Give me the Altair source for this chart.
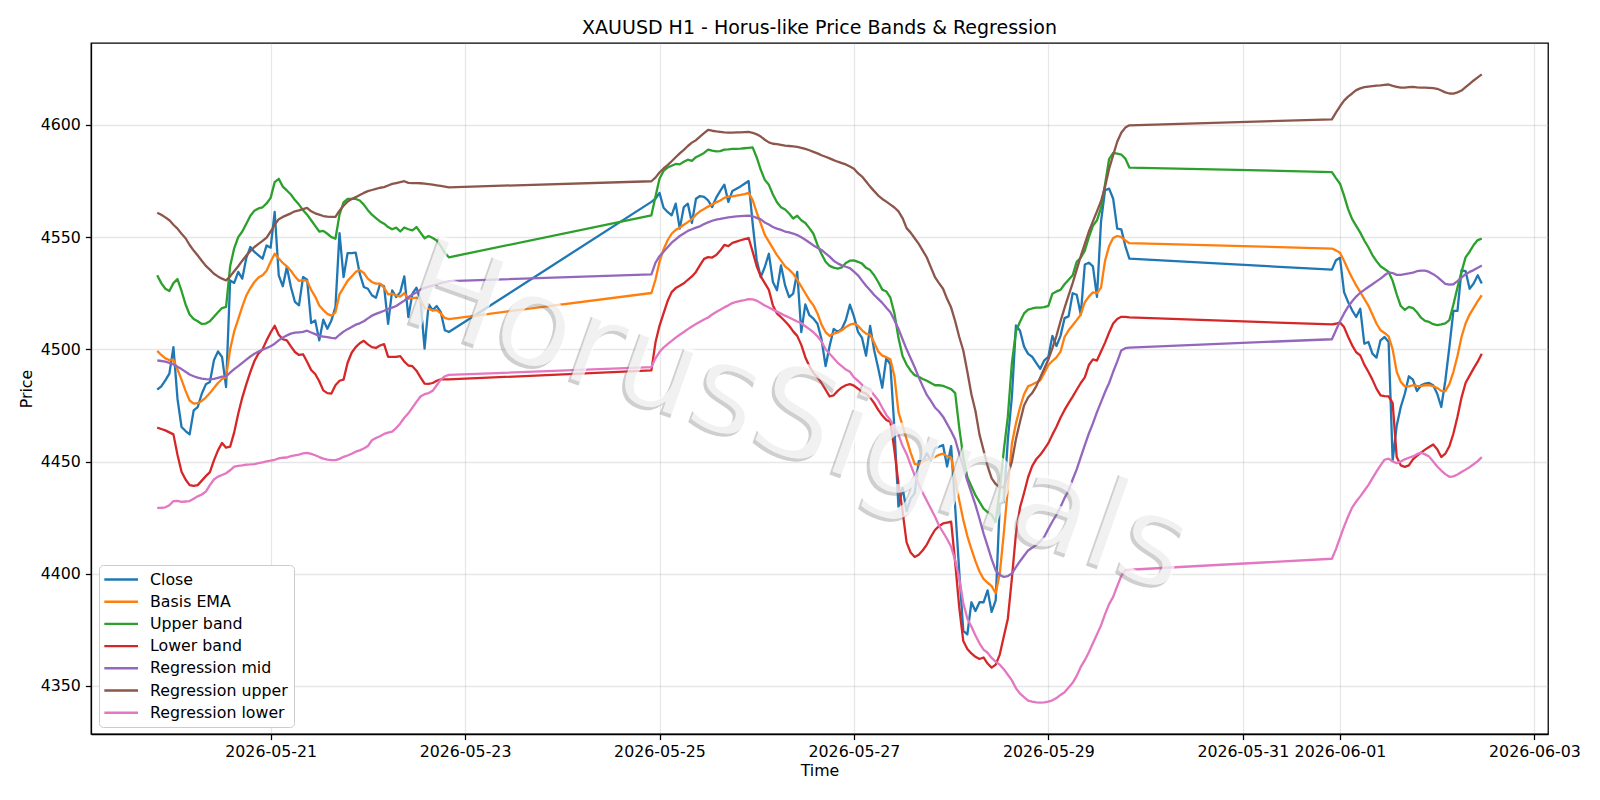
import altair as alt
import pandas as pd

TITLE = "XAUUSD H1 - Horus-like Price Bands & Regression"
WATERMARK = "HorusSignals"
SERIES = ["Close", "Basis EMA", "Upper band", "Lower band",
          "Regression mid", "Regression upper", "Regression lower"]
COLORS = ["#1f77b4", "#ff7f0e", "#2ca02c", "#d62728",
          "#9467bd", "#8c564b", "#e377c2"]
# hourly trading sessions (weekend gaps between them)
SESSIONS = [("2026-05-19 20:00", "2026-05-22 20:00"),
            ("2026-05-24 22:00", "2026-05-29 20:00"),
            ("2026-05-31 22:00", "2026-06-02 11:00")]
X_TICKS = ["2026-05-21", "2026-05-23", "2026-05-25", "2026-05-27",
           "2026-05-29", "2026-05-31", "2026-06-01", "2026-06-03"]
Y_TICKS = [4350, 4400, 4450, 4500, 4550, 4600]

# ---------------- session 1 (73 bars) ----------------
CLOSE_1 = [4482.0, 4483.5, 4486.2, 4489.2, 4501.0, 4478.0, 4465.4, 4463.6, 4462.1, 4472.8,
           4474.3, 4480.2, 4484.4, 4485.4, 4495.1, 4499.1, 4496.6, 4483.2, 4530.7, 4529.6,
           4534.5, 4531.5, 4540.8, 4545.6, 4543.4, 4541.9, 4540.4, 4546.3, 4545.3, 4561.2,
           4533.0, 4528.1, 4536.7, 4527.8, 4521.1, 4519.6, 4532.2, 4531.0, 4511.7, 4512.9,
           4504.0, 4513.2, 4509.2, 4512.9, 4518.9, 4551.8, 4532.2, 4542.9, 4542.9, 4543.1,
           4533.7, 4527.8, 4527.0, 4524.1, 4523.0, 4529.0, 4528.1, 4511.4, 4526.3, 4523.3,
           4525.5, 4532.5, 4514.4, 4524.8, 4527.5, 4521.8, 4500.3, 4520.1, 4517.4, 4519.3,
           4516.6, 4508.5, 4507.7]
BASIS_1 = [4499.3, 4497.5, 4496.0, 4495.2, 4495.4, 4491.0, 4486.5, 4481.5, 4477.2, 4475.8,
           4476.0, 4477.0, 4478.5, 4480.5, 4482.8, 4485.0, 4486.8, 4487.5, 4500.0, 4508.0,
           4513.5, 4519.0, 4524.0, 4527.3, 4530.0, 4532.0, 4533.0, 4535.0, 4539.0, 4542.6,
           4540.5, 4538.5, 4537.0, 4535.0, 4532.5, 4530.5, 4530.8, 4530.5, 4526.5, 4523.5,
           4519.5, 4517.5, 4515.8, 4515.0, 4516.5, 4524.5, 4527.5, 4530.5, 4532.5, 4534.5,
           4535.3, 4534.0, 4531.5, 4530.0, 4529.3, 4529.3, 4527.5, 4524.5, 4524.8, 4524.0,
           4523.5, 4525.0, 4522.5, 4522.8, 4523.0, 4522.0, 4518.5, 4518.0, 4517.4, 4517.5,
           4516.0, 4514.0, 4513.5]
UPPER_1 = [4533.0, 4529.5, 4527.0, 4526.0, 4529.5, 4531.3, 4526.0, 4520.0, 4515.5, 4513.5,
           4512.5, 4511.3, 4511.5, 4512.5, 4514.5, 4516.5, 4518.4, 4518.9, 4537.0, 4545.0,
           4550.0, 4552.5, 4556.0, 4559.5, 4561.8, 4562.8, 4563.3, 4565.0, 4567.5, 4574.5,
           4576.0, 4572.5, 4570.8, 4569.0, 4566.5, 4564.5, 4562.0, 4560.0, 4557.5, 4555.0,
           4552.5, 4552.8, 4551.5, 4550.0, 4549.3, 4560.0, 4565.5, 4567.0, 4567.0, 4567.0,
           4566.3, 4564.5, 4562.0, 4560.0, 4558.5, 4557.0, 4556.0, 4554.5, 4553.5, 4554.2,
           4552.5, 4554.3, 4553.5, 4553.0, 4554.5, 4552.0, 4549.5, 4550.5, 4549.6, 4548.5,
           4546.0, 4543.0, 4541.0]
LOWER_1 = [4465.1, 4464.5, 4463.9, 4463.0, 4462.1, 4453.0, 4445.5, 4442.0, 4439.5, 4439.2,
           4439.5, 4441.5, 4443.5, 4445.3, 4450.5, 4455.0, 4458.3, 4456.2, 4456.6, 4463.0,
           4471.3, 4478.5, 4484.5, 4490.0, 4494.8, 4498.2, 4500.0, 4504.0, 4507.5, 4510.5,
           4506.5, 4504.5, 4504.0, 4501.3, 4498.8, 4497.5, 4497.8, 4494.5, 4490.8, 4489.0,
           4485.8, 4481.7, 4480.5, 4480.3, 4484.0, 4486.0, 4486.5, 4494.0, 4498.5, 4501.0,
           4502.7, 4503.8, 4502.2, 4501.0, 4500.6, 4501.7, 4502.3, 4496.6, 4496.6, 4496.6,
           4497.0, 4494.5, 4492.8, 4492.5, 4490.5, 4487.5, 4484.7, 4484.6, 4485.0, 4486.0,
           4486.6, 4486.6, 4486.6]
REGMID_1 = [4495.1, 4494.8, 4494.5, 4494.0, 4493.3, 4492.2, 4491.2, 4490.0, 4488.8, 4488.0,
            4487.4, 4487.0, 4486.7, 4486.6, 4486.8, 4487.3, 4487.8, 4488.0, 4489.6, 4491.2,
            4492.5, 4494.0, 4495.4, 4496.8, 4498.0, 4499.0, 4499.8, 4500.6, 4501.4, 4502.5,
            4504.0, 4505.3, 4506.2, 4507.0, 4507.4, 4507.6, 4507.8, 4508.3, 4507.5, 4506.8,
            4506.0, 4505.7, 4505.4, 4505.1, 4504.9, 4506.5, 4507.9, 4509.0, 4510.0, 4511.0,
            4511.6, 4512.5, 4513.8, 4515.0, 4515.8, 4516.5, 4517.2, 4518.0, 4518.6, 4519.3,
            4520.5, 4521.7, 4523.2, 4524.4, 4525.3, 4526.6, 4527.4, 4527.9, 4528.4, 4528.9,
            4529.5, 4530.0, 4530.4]
REGUP_1 = [4560.9, 4560.0, 4558.8, 4557.5, 4555.5, 4553.8, 4551.5, 4549.5, 4546.5, 4544.0,
           4541.8, 4539.5, 4537.2, 4535.5, 4533.7, 4532.5, 4531.5, 4530.7, 4532.5, 4534.8,
           4537.0, 4539.5, 4541.8, 4543.8, 4545.6, 4547.0, 4548.3, 4549.8, 4552.5, 4555.5,
           4558.0, 4559.0, 4559.8, 4560.6, 4561.5, 4561.9, 4562.5, 4563.0, 4561.5, 4560.6,
           4560.0, 4559.4, 4559.1, 4559.0, 4559.0, 4561.8, 4564.0, 4565.8, 4567.0, 4567.8,
           4568.8, 4569.7, 4570.5, 4571.0, 4571.5, 4572.0, 4572.3, 4573.0, 4573.7, 4574.1,
           4574.5, 4574.9, 4574.2, 4574.1, 4574.1, 4574.0, 4573.8, 4573.6, 4573.4, 4573.1,
           4572.8, 4572.5, 4572.2]
REGLO_1 = [4429.4, 4429.4, 4429.6, 4430.5, 4432.4, 4432.5, 4432.0, 4432.2, 4432.4, 4433.4,
           4434.5, 4435.3, 4436.6, 4439.5, 4442.0, 4443.3, 4444.0, 4444.8, 4446.1, 4447.7,
           4448.1, 4448.3, 4448.6, 4448.7, 4448.9, 4449.3, 4449.6, 4450.1, 4450.4, 4450.8,
           4451.4, 4451.7, 4451.8, 4452.4, 4452.8, 4453.1, 4453.6, 4453.9, 4453.4, 4452.8,
           4452.0, 4451.3, 4450.9, 4450.6, 4450.6, 4451.2, 4452.1, 4452.7, 4453.5, 4454.4,
           4455.0, 4455.8, 4456.9, 4459.5, 4460.5, 4461.3, 4462.3, 4462.9, 4463.3, 4464.9,
           4467.0, 4469.5, 4471.5, 4474.0, 4476.6, 4479.0, 4480.0, 4480.5, 4481.5, 4484.0,
           4486.5, 4488.0, 4488.6]

# ---------------- session 2 (119 bars) ----------------
CLOSE_2 = [4565.7, 4567.1, 4569.7, 4563.1, 4561.2, 4559.7, 4564.9, 4553.8, 4563.4, 4564.9,
           4556.3, 4567.1, 4568.3, 4567.9, 4566.4, 4563.4, 4567.6, 4570.6, 4573.4, 4565.7,
           4570.6, 4571.6, 4572.6, 4573.8, 4575.0, 4556.0, 4539.7, 4532.2, 4536.7, 4542.6,
           4530.0, 4526.3, 4537.4, 4528.5, 4523.3, 4524.8, 4534.5, 4507.7, 4520.0, 4515.2,
           4513.7, 4511.4, 4504.5, 4492.5, 4501.5, 4509.1, 4507.8, 4509.1, 4513.1, 4519.9,
           4514.7, 4507.8, 4505.1, 4497.2, 4510.4, 4499.6, 4491.6, 4482.9, 4496.3, 4493.2,
           4464.6, 4429.5, 4438.3, 4427.9, 4433.5, 4435.9, 4450.2, 4450.2, 4453.7, 4450.5,
           4455.8, 4456.6, 4457.4, 4447.8, 4456.9, 4429.5, 4400.9, 4374.6, 4373.0, 4387.3,
           4383.4, 4387.3, 4387.3, 4392.6, 4383.0, 4388.1, 4431.1, 4431.9, 4459.8, 4478.9,
           4510.7, 4508.3, 4501.2, 4498.0, 4496.7, 4494.0, 4491.3, 4495.1, 4496.7, 4506.0,
           4501.5, 4506.0, 4513.9, 4514.7, 4525.0, 4524.3, 4515.5, 4537.8, 4538.6, 4537.0,
           4523.4, 4556.9, 4570.9, 4571.6, 4567.1, 4553.8, 4553.5, 4546.0, 4540.4]
BASIS_2 = [4525.1, 4531.0, 4539.0, 4544.5, 4548.6, 4551.5, 4553.2, 4554.3, 4555.5, 4556.7,
           4558.0, 4560.0, 4561.5, 4562.5, 4563.6, 4564.5, 4565.5, 4566.3, 4567.5, 4568.0,
           4568.2, 4568.5, 4568.8, 4569.2, 4569.7, 4566.5, 4561.0, 4556.0, 4551.0, 4548.0,
           4545.0, 4542.0, 4539.5, 4537.0, 4535.5, 4533.7, 4531.0, 4528.0, 4525.0, 4522.0,
           4519.6, 4516.0, 4511.0, 4507.7, 4506.0, 4507.0, 4507.5, 4508.5, 4509.9, 4511.0,
           4511.5, 4510.5, 4508.5, 4507.0, 4506.5, 4503.0, 4499.0, 4497.2, 4496.5, 4495.6,
           4488.0, 4472.0, 4466.0, 4460.0, 4454.0, 4449.0, 4448.5, 4450.2, 4450.8, 4451.5,
           4452.0, 4453.0, 4453.5, 4452.3, 4451.8, 4442.0, 4432.7, 4424.0, 4416.8, 4411.0,
           4405.6, 4401.0, 4397.7, 4396.0, 4394.5, 4391.3, 4400.0, 4418.0, 4438.0, 4458.0,
           4467.0, 4474.1, 4480.0, 4483.5, 4484.3, 4485.2, 4486.1, 4489.5, 4493.0, 4494.8,
           4496.4, 4499.0, 4505.5, 4508.5, 4510.7, 4513.0, 4515.5, 4521.0, 4523.5, 4525.4,
           4525.0, 4527.5, 4539.5, 4546.0, 4549.6, 4550.5, 4550.0, 4548.5, 4547.3]
UPPER_2 = [4559.7, 4568.0, 4576.0, 4579.5, 4581.0, 4581.8, 4582.6, 4582.4, 4583.6, 4584.5,
           4584.0, 4585.6, 4586.5, 4587.5, 4589.0, 4588.5, 4588.2, 4588.3, 4589.0, 4589.1,
           4589.3, 4589.3, 4589.4, 4589.6, 4589.8, 4590.0, 4585.5, 4580.0, 4575.5, 4573.3,
           4569.0, 4565.5, 4563.3, 4562.3, 4560.5, 4558.3, 4559.5, 4557.5, 4556.3, 4554.0,
           4551.5, 4546.5, 4542.5, 4539.0, 4537.2, 4536.4, 4536.0, 4536.5, 4538.5, 4539.5,
           4539.6, 4539.0, 4538.2, 4536.3, 4535.3, 4533.0, 4530.0, 4526.6, 4525.8, 4523.0,
           4516.0, 4505.0, 4497.0, 4493.2, 4490.5, 4488.5, 4487.8, 4486.8, 4486.0, 4485.0,
           4484.0, 4484.0, 4483.7, 4483.0, 4482.3, 4480.5, 4465.0, 4452.0, 4443.0, 4439.0,
           4435.0, 4432.0, 4429.0, 4427.5, 4426.3, 4423.1, 4437.5, 4455.0, 4470.0, 4494.0,
           4508.0, 4512.3, 4516.0, 4517.7, 4518.2, 4518.6, 4518.6, 4518.8, 4519.4, 4524.8,
           4525.8, 4526.5, 4529.0, 4531.0, 4533.0, 4539.0, 4540.8, 4544.0, 4550.0, 4555.0,
           4557.5, 4563.0, 4573.6, 4584.8, 4587.5, 4587.2, 4586.8, 4585.0, 4581.0]
LOWER_2 = [4490.6, 4503.0, 4510.5, 4516.0, 4521.5, 4525.5, 4527.3, 4528.3, 4529.4, 4531.0,
           4532.5, 4534.5, 4537.5, 4540.3, 4541.1, 4540.9, 4542.0, 4544.0, 4546.5, 4546.0,
           4547.4, 4548.0, 4548.6, 4549.1, 4549.6, 4543.5, 4537.0, 4532.5, 4529.5, 4526.5,
           4519.5, 4516.0, 4514.3, 4512.5, 4510.5, 4508.0, 4506.0, 4502.0, 4496.5, 4492.5,
           4489.5, 4487.5, 4485.0, 4482.0, 4479.0, 4479.5, 4481.5, 4483.0, 4484.0, 4484.5,
           4483.8, 4482.5, 4481.0, 4480.3, 4478.5, 4476.0, 4473.0, 4470.5, 4468.5, 4467.7,
           4455.0, 4440.0, 4428.0, 4414.0, 4409.5, 4407.5, 4408.5, 4410.5, 4413.0, 4416.5,
           4419.5, 4421.2, 4422.4, 4422.8, 4423.2, 4405.0, 4385.0, 4370.0, 4366.5, 4364.5,
           4363.0, 4362.0, 4362.7, 4360.0, 4358.2, 4359.5, 4364.0, 4372.0, 4380.0, 4398.0,
           4418.0, 4429.5, 4436.0, 4443.0, 4448.0, 4451.0, 4453.0, 4455.5, 4458.2, 4462.0,
           4465.5, 4469.5, 4473.0, 4476.0, 4478.9, 4482.0, 4485.0, 4487.5, 4493.0, 4495.5,
           4495.0, 4499.0, 4503.0, 4507.5, 4511.5, 4513.5, 4514.5, 4514.5, 4514.2]
REGMID_2 = [4533.4, 4538.5, 4541.5, 4543.5, 4545.5, 4547.5, 4549.0, 4550.5, 4551.6, 4552.8,
            4553.5, 4554.2, 4554.8, 4555.8, 4556.6, 4557.3, 4557.8, 4558.1, 4558.5, 4558.8,
            4559.0, 4559.2, 4559.4, 4559.5, 4559.6, 4559.3, 4558.6, 4557.9, 4556.5, 4555.6,
            4554.5, 4553.8, 4553.2, 4552.5, 4552.1, 4551.6, 4550.9, 4549.9, 4548.8, 4547.6,
            4546.3, 4545.3, 4544.3, 4542.8, 4541.3, 4539.5, 4538.3, 4537.4, 4536.8, 4536.2,
            4534.6, 4533.0, 4530.6, 4528.3, 4526.3, 4524.2, 4522.5, 4520.7, 4518.5, 4516.5,
            4513.0, 4509.1, 4504.5, 4500.0, 4496.0, 4492.0, 4487.5, 4483.5, 4479.7, 4477.0,
            4474.1, 4472.3, 4470.0, 4466.8, 4463.5, 4459.8, 4453.5, 4447.5, 4441.5, 4436.0,
            4430.7, 4424.5, 4418.0, 4412.3, 4406.5, 4401.5, 4399.5, 4398.6, 4399.0, 4400.1,
            4403.0, 4405.6, 4408.0, 4410.4, 4411.6, 4412.8, 4414.5, 4416.5, 4420.0, 4423.3,
            4426.3, 4429.8, 4433.8, 4437.0, 4442.0, 4446.5, 4452.0, 4457.3, 4462.5, 4467.0,
            4472.0, 4476.5, 4481.0, 4485.0, 4490.0, 4494.5, 4499.5, 4500.5, 4500.8]
REGUP_2 = [4574.9, 4576.5, 4578.8, 4580.6, 4582.1, 4583.8, 4585.6, 4587.3, 4588.9, 4590.6,
           4592.1, 4593.2, 4594.8, 4596.3, 4597.8, 4597.4, 4597.1, 4596.9, 4596.7, 4596.6,
           4596.6, 4596.7, 4596.7, 4596.8, 4596.9, 4596.5, 4595.8, 4594.8, 4593.4, 4592.2,
           4591.6, 4591.4, 4591.1, 4590.8, 4590.6, 4590.4, 4590.2, 4589.8, 4589.3, 4588.7,
           4588.0, 4587.3, 4586.5, 4585.8, 4585.1, 4584.3, 4583.6, 4583.0, 4582.4, 4581.5,
           4580.5, 4578.5, 4577.0, 4574.8, 4572.5, 4570.5, 4568.5, 4567.0, 4565.8, 4564.5,
           4563.2, 4561.5, 4558.5, 4554.0, 4552.0, 4549.5, 4547.0, 4544.0, 4540.9, 4536.5,
           4532.2, 4529.5, 4527.0, 4522.5, 4518.6, 4512.5, 4505.5, 4499.5, 4490.0, 4480.0,
           4472.5, 4462.0, 4455.0, 4448.0, 4442.5, 4440.0, 4438.5, 4438.5, 4444.0, 4450.0,
           4460.0, 4467.7, 4475.0, 4478.5, 4480.5, 4483.5, 4487.5, 4491.5, 4495.5, 4500.5,
           4506.0, 4512.5, 4518.5, 4524.0, 4529.5, 4535.5, 4541.5, 4547.0, 4552.5, 4557.0,
           4561.5, 4566.0, 4572.5, 4580.5, 4586.5, 4592.5, 4596.5, 4598.8, 4599.8]
REGLO_2 = [4492.1, 4496.0, 4498.8, 4500.8, 4502.3, 4503.8, 4505.2, 4506.5, 4507.7, 4509.0,
           4510.2, 4511.3, 4512.3, 4513.3, 4514.2, 4515.5, 4516.6, 4517.6, 4518.7, 4519.6,
           4520.6, 4521.2, 4521.6, 4521.9, 4522.4, 4522.3, 4521.7, 4520.6, 4519.5, 4518.6,
           4517.7, 4516.8, 4515.9, 4515.0, 4514.2, 4513.3, 4512.4, 4511.6, 4510.3, 4509.0,
           4507.6, 4505.8, 4503.5, 4500.0, 4498.0, 4496.0, 4494.0, 4492.5, 4491.0, 4490.0,
           4487.5, 4486.0, 4484.3, 4483.0, 4482.1, 4479.5, 4477.3, 4474.0, 4470.8, 4468.5,
           4465.0, 4462.0, 4457.0, 4453.4, 4448.5, 4443.9, 4440.0, 4436.0, 4432.5, 4429.0,
           4425.5, 4421.5, 4418.5, 4415.5, 4412.0, 4406.0, 4398.0, 4387.0, 4380.0, 4376.5,
           4372.5, 4369.0, 4366.2, 4364.8, 4362.5, 4360.8, 4359.5, 4357.5, 4355.0, 4352.5,
           4349.0, 4346.6, 4345.0, 4343.5, 4343.0, 4342.7, 4342.6, 4342.7, 4343.0, 4343.6,
           4344.6, 4346.0, 4347.2, 4349.3, 4351.4, 4354.5, 4358.5, 4361.5, 4365.0, 4369.0,
           4373.0, 4377.0, 4382.0, 4386.5, 4389.7, 4394.5, 4399.0, 4401.7, 4401.8]

# ---------------- session 3 (38 bars) ----------------
CLOSE_3 = [4535.5, 4539.7, 4540.8, 4525.5, 4521.1, 4517.4, 4514.4, 4518.1, 4502.5, 4503.3,
           4498.1, 4496.3, 4504.0, 4505.5, 4503.3, 4450.5, 4466.0, 4474.3, 4480.2, 4488.0,
           4486.5, 4481.4, 4484.0, 4484.7, 4485.0, 4484.0, 4480.2, 4474.3, 4486.0, 4501.0,
           4517.1, 4517.1, 4535.2, 4534.9, 4527.0, 4529.3, 4533.0, 4529.3]
BASIS_3 = [4544.9, 4544.1, 4543.0, 4539.5, 4535.5, 4531.8, 4528.5, 4525.5, 4522.5, 4519.5,
           4515.5, 4511.5, 4508.5, 4507.3, 4505.8, 4500.0, 4490.0, 4485.5, 4483.5, 4483.5,
           4484.0, 4483.7, 4483.6, 4484.0, 4484.0, 4483.6, 4482.8, 4481.5, 4481.4, 4484.5,
           4490.0, 4497.0, 4505.5, 4511.5, 4515.5, 4518.5, 4521.5, 4524.1]
UPPER_3 = [4579.0, 4576.3, 4573.8, 4568.5, 4562.5, 4558.0, 4555.0, 4552.0, 4548.5, 4545.5,
           4542.0, 4539.3, 4537.0, 4535.8, 4534.5, 4530.5, 4524.5, 4519.3, 4517.6, 4518.9,
           4518.4, 4516.5, 4514.1, 4512.7, 4512.2, 4511.2, 4510.8, 4511.1, 4511.6, 4513.0,
           4520.0, 4527.5, 4534.5, 4541.0, 4543.5, 4546.5, 4548.7, 4549.3]
LOWER_3 = [4511.1, 4511.4, 4512.0, 4509.9, 4505.6, 4501.8, 4498.7, 4497.3, 4493.2, 4490.0,
           4486.5, 4482.5, 4479.5, 4479.2, 4479.0, 4476.0, 4452.0, 4448.3, 4447.6, 4448.3,
           4451.0, 4452.5, 4454.0, 4455.3, 4456.5, 4457.6, 4455.5, 4452.0, 4453.5, 4456.8,
           4462.5, 4470.0, 4478.5, 4485.0, 4488.3, 4491.5, 4494.5, 4498.0]
REGMID_3 = [4504.5, 4508.5, 4512.5, 4516.0, 4519.0, 4521.4, 4523.5, 4525.2, 4526.5, 4527.8,
            4529.0, 4530.3, 4531.5, 4533.0, 4534.3, 4534.0, 4533.2, 4533.2, 4533.5, 4533.8,
            4534.2, 4534.8, 4535.1, 4535.1, 4534.5, 4533.5, 4532.3, 4530.7, 4529.2, 4528.8,
            4529.0, 4530.4, 4532.0, 4533.5, 4534.5, 4535.3, 4536.3, 4537.4]
REGUP_3 = [4602.5, 4605.5, 4608.3, 4610.8, 4612.6, 4614.0, 4615.5, 4616.3, 4616.8, 4617.1,
           4617.3, 4617.5, 4617.6, 4617.8, 4618.0, 4617.4, 4617.0, 4616.6, 4616.6, 4616.8,
           4616.9, 4616.7, 4616.6, 4616.6, 4616.5, 4616.4, 4616.1, 4615.3, 4614.5, 4614.0,
           4613.9, 4614.5, 4615.3, 4616.8, 4618.3, 4619.8, 4621.2, 4622.5]
REGLO_3 = [4406.7, 4411.0, 4416.0, 4421.0, 4425.5, 4429.5, 4432.2, 4434.5, 4437.0, 4439.5,
           4442.5, 4445.5, 4448.3, 4450.8, 4451.3, 4450.0, 4449.3, 4450.0, 4451.0, 4451.7,
           4452.3, 4453.3, 4454.0, 4453.2, 4452.2, 4450.0, 4447.8, 4446.0, 4444.4, 4443.2,
           4443.4, 4444.2, 4445.3, 4446.4, 4447.5, 4448.8, 4450.2, 4452.0]

VALUES = {
    "Close": CLOSE_1 + CLOSE_2 + CLOSE_3,
    "Basis EMA": BASIS_1 + BASIS_2 + BASIS_3,
    "Upper band": UPPER_1 + UPPER_2 + UPPER_3,
    "Lower band": LOWER_1 + LOWER_2 + LOWER_3,
    "Regression mid": REGMID_1 + REGMID_2 + REGMID_3,
    "Regression upper": REGUP_1 + REGUP_2 + REGUP_3,
    "Regression lower": REGLO_1 + REGLO_2 + REGLO_3,
}

# ---------------- build table ----------------
times = pd.DatetimeIndex([])
for start, end in SESSIONS:
    times = times.append(pd.date_range(start, end, freq="h"))
n = len(times)
rows = []
for name in SERIES:
    vals = VALUES[name][:n]
    for t, v in zip(times[:len(vals)], vals):
        rows.append({"time": t.strftime("%Y-%m-%dT%H:%M:%SZ"), "value": v, "series": name})
df = pd.DataFrame(rows)

# matplotlib-like 5% margins
t0 = times[0].value // 10**6
t1 = times[-1].value // 10**6
tpad = (t1 - t0) * 0.05
vmin, vmax = float(df["value"].min()), float(df["value"].max())
vpad = (vmax - vmin) * 0.05
x_tick_ms = [pd.Timestamp(d).value // 10**6 for d in X_TICKS]

FONT = "DejaVu Sans"
W, H = 1457, 691

x_enc = alt.X("time:T",
              scale=alt.Scale(type="utc", domain=[t0 - tpad, t1 + tpad], nice=False),
              axis=alt.Axis(values=x_tick_ms,
                            labelExpr="utcFormat(datum.value, '%Y-%m-%d')",
                            title="Time", labelOverlap=False, titlePadding=4))
y_enc = alt.Y("value:Q",
              scale=alt.Scale(domain=[vmin - vpad, vmax + vpad], nice=False, zero=False),
              axis=alt.Axis(values=Y_TICKS, format="d", title="Price", titlePadding=6))
color_enc = alt.Color(
    "series:N",
    scale=alt.Scale(domain=SERIES, range=COLORS),
    legend=alt.Legend(
        title=None, orient="none", legendX=8, legendY=522,
        symbolType="M-1.31,0H3.5", symbolSize=196, symbolStrokeWidth=2.4,
        labelFont=FONT, labelFontSize=15.8, labelColor="black",
        labelOffset=28, rowPadding=5.2, padding=6,
        strokeColor="#cccccc", fillColor="#ffffff", cornerRadius=4,
    ),
)

base = alt.Chart(df)
line_layers = [
    base.transform_filter(alt.datum.series == name)
        .mark_line(strokeWidth=2.3, strokeJoin="round")
        .encode(x=x_enc, y=y_enc, color=color_enc)
    for name in SERIES
]

WM_SIZE, WM_ANGLE, WM_X, WM_Y = 126, 19.5, 707, 376
wm_df = pd.DataFrame({"label": [WATERMARK]})
wm_shadow = alt.Chart(wm_df).mark_text(
    font=FONT, fontSize=WM_SIZE, angle=WM_ANGLE, align="center", baseline="middle",
    fill="#777777", opacity=0.35,
).encode(x=alt.value(WM_X - 3), y=alt.value(WM_Y + 3), text="label:N")
wm_main = alt.Chart(wm_df).mark_text(
    font=FONT, fontSize=WM_SIZE, angle=WM_ANGLE, align="center", baseline="middle",
    fill="#ffffff", opacity=0.72,
).encode(x=alt.value(WM_X), y=alt.value(WM_Y), text="label:N")

chart = alt.layer(*line_layers, wm_shadow, wm_main).properties(
    width=W, height=H,
    padding={"left": 91, "top": 43, "right": 1600 - 91 - W, "bottom": 800 - 43 - H},
    autosize=alt.AutoSizeParams(type="none"),
    title=alt.TitleParams(TITLE, font=FONT, fontSize=19, fontWeight="normal",
                          color="black", anchor="middle", offset=5),
).configure_view(
    stroke="black", strokeWidth=1.27
).configure_axis(
    labelFont=FONT, labelFontSize=15.8, labelColor="black",
    titleFont=FONT, titleFontSize=15.8, titleFontWeight="normal", titleColor="black",
    tickColor="black", tickSize=5.6, tickWidth=1.27, labelPadding=5,
    domainColor="black", domainWidth=1.27,
    gridColor="#b0b0b0", gridOpacity=0.3, gridWidth=1.27,
)

chart.save("out.html", embed_options={"renderer": "svg", "actions": False})
